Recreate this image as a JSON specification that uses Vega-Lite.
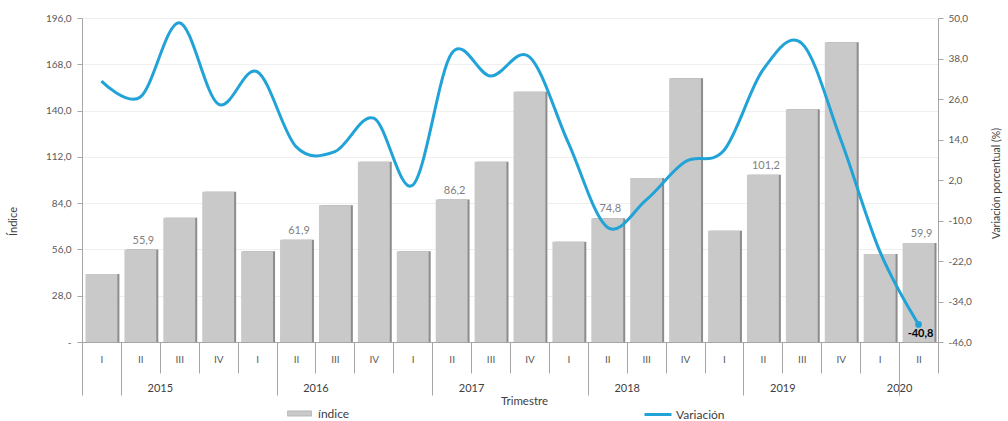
{
  "$schema": "https://vega.github.io/schema/vega-lite/v6.json",
  "width": 856,
  "height": 324,
  "autosize": {"type": "none"},
  "padding": {"left": 82, "top": 18, "right": 70, "bottom": 79},
  "background": "white",
  "config": {
    "locale": {"number": {"decimal": ",", "thousands": ".", "grouping": [3], "currency": ["", " €"], "minus": "-"}},
    "view": {"stroke": null},
    "font": "Lato",
    "axis": {
      "labelFont": "Lato",
      "labelColor": "#595959",
      "labelFontSize": 10,
      "titleFont": "Lato",
      "titleFontWeight": "normal",
      "titleColor": "#404040",
      "titleFontSize": 11,
      "domainColor": "#a6a6a6",
      "tickColor": "#a6a6a6",
      "grid": false
    },
    "legend": {"labelFont": "Lato", "labelFontSize": 12, "labelColor": "#404040", "padding": 0}
  },
  "data": {
    "values": [
      {"q": "2015-I", "anio": "2015", "trim": "I", "indice": 41.1, "var": 31.3},
      {"q": "2015-II", "anio": "2015", "trim": "II", "indice": 55.9, "var": 26.6},
      {"q": "2015-III", "anio": "2015", "trim": "III", "indice": 75.2, "var": 48.6},
      {"q": "2015-IV", "anio": "2015", "trim": "IV", "indice": 90.9, "var": 24.5},
      {"q": "2016-I", "anio": "2016", "trim": "I", "indice": 54.9, "var": 34.1},
      {"q": "2016-II", "anio": "2016", "trim": "II", "indice": 61.9, "var": 11.9},
      {"q": "2016-III", "anio": "2016", "trim": "III", "indice": 82.7, "var": 10.4},
      {"q": "2016-IV", "anio": "2016", "trim": "IV", "indice": 109.1, "var": 20.3},
      {"q": "2017-I", "anio": "2017", "trim": "I", "indice": 54.9, "var": 0.5},
      {"q": "2017-II", "anio": "2017", "trim": "II", "indice": 86.2, "var": 39.5},
      {"q": "2017-III", "anio": "2017", "trim": "III", "indice": 109.1, "var": 32.8},
      {"q": "2017-IV", "anio": "2017", "trim": "IV", "indice": 151.4, "var": 38.5},
      {"q": "2018-I", "anio": "2018", "trim": "I", "indice": 60.7, "var": 13.0},
      {"q": "2018-II", "anio": "2018", "trim": "II", "indice": 74.8, "var": -12.0},
      {"q": "2018-III", "anio": "2018", "trim": "III", "indice": 99.2, "var": -3.9},
      {"q": "2018-IV", "anio": "2018", "trim": "IV", "indice": 159.5, "var": 7.4},
      {"q": "2019-I", "anio": "2019", "trim": "I", "indice": 67.3, "var": 10.8},
      {"q": "2019-II", "anio": "2019", "trim": "II", "indice": 101.2, "var": 34.6},
      {"q": "2019-III", "anio": "2019", "trim": "III", "indice": 140.8, "var": 42.5},
      {"q": "2019-IV", "anio": "2019", "trim": "IV", "indice": 181.3, "var": 14.0},
      {"q": "2020-I", "anio": "2020", "trim": "I", "indice": 53.2, "var": -19.0},
      {"q": "2020-II", "anio": "2020", "trim": "II", "indice": 59.9, "var": -40.8}
    ]
  },
  "layer": [
    {
      "encoding": {
        "x": {
          "field": "q", "type": "nominal", "sort": null,
          "scale": {"paddingInner": 0, "paddingOuter": 0},
          "axis": {
            "orient": "bottom", "title": null, "labelAngle": 0,
            "labelExpr": "split(datum.value, '-')[1]",
            "tickBand": "extent", "tickSize": 31, "labelPadding": -19,
            "labelFontSize": 10
          }
        },
        "y": {
          "field": "indice", "type": "quantitative",
          "scale": {"domain": [0, 196], "nice": false, "zero": true},
          "axis": {
            "orient": "left",
            "values": [0, 28, 56, 84, 112, 140, 168, 196],
            "format": ".1f",
            "labelExpr": "datum.value == 0 ? '-' : datum.label",
            "title": "Índice",
            "titleX": -64, "titleY": 203, "titleBaseline": "bottom", "titleAngle": -90,
            "tickSize": 5, "labelPadding": 6,
            "grid": true, "gridColor": "#efefef"
          }
        }
      },
      "layer": [
        {"mark": {"type": "bar", "width": {"band": 0.82}, "xOffset": 2, "color": "#8c8c8c"}},
        {
          "mark": {"type": "bar", "width": {"band": 0.82}},
          "encoding": {
            "fill": {
              "datum": "índice", "type": "nominal",
              "scale": {"range": ["#c9c9c9"]},
              "legend": {
                "orient": "none", "legendX": 205, "legendY": 383, "title": null,
                "symbolType": "M-1,-0.22H1V0.22H-1Z", "symbolSize": 576,
                "symbolStrokeColor": "#9a9a9a", "symbolStrokeWidth": 0.5,
                "labelOffset": 6
              }
            }
          }
        }
      ]
    },
    {
      "encoding": {
        "x": {
          "field": "q", "type": "nominal", "sort": null,
          "scale": {"paddingInner": 0, "paddingOuter": 0},
          "axis": {
            "orient": "bottom", "labelAngle": 0,
            "values": ["2015-II", "2016-II", "2017-II", "2018-II", "2019-II", "2020-I"],
            "labelOffset": 19.45,
            "labelExpr": "split(datum.value, '-')[0]",
            "ticks": false, "domain": false, "labelPadding": 40,
            "labelFontSize": 11, "labelColor": "#404040",
            "title": "Trimestre", "titleX": 442, "titleY": 53, "titleBaseline": "top",
            "titleFontSize": 11.5
          }
        },
        "y": {
          "field": "var", "type": "quantitative",
          "scale": {"domain": [-46, 50], "nice": false, "zero": false},
          "axis": {
            "orient": "right",
            "values": [-46, -34, -22, -10, 2, 14, 26, 38, 50],
            "format": ".1f",
            "title": "Variación porcentual (%)",
            "titleAngle": 270, "titleBaseline": "bottom", "titleX": 63, "titleY": 165,
            "titleFontSize": 10.5,
            "tickSize": 5, "labelPadding": 5
          }
        }
      },
      "layer": [
        {
          "mark": {"type": "line", "interpolate": "cardinal", "strokeWidth": 3},
          "encoding": {
            "stroke": {
              "datum": "Variación", "type": "nominal",
              "scale": {"range": ["#21a3d8"]},
              "legend": {
                "orient": "none", "legendX": 561, "legendY": 381.5, "title": null,
                "symbolType": "stroke", "symbolSize": 729, "symbolStrokeWidth": 3,
                "labelOffset": 3
              }
            }
          }
        },
        {
          "mark": {"type": "point", "filled": true, "size": 45, "color": "#21a3d8"},
          "encoding": {
            "opacity": {"condition": {"test": "datum.q == '2020-II'", "value": 1}, "value": 0}
          }
        },
        {
          "mark": {"type": "text", "dy": 10, "dx": 2, "fontWeight": "bold", "fontSize": 11, "color": "#000000"},
          "encoding": {
            "text": {"condition": {"test": "datum.q == '2020-II'", "field": "var", "type": "quantitative", "format": ".1f"}, "value": ""}
          }
        }
      ]
    },
    {
      "mark": {"type": "text", "baseline": "alphabetic", "dy": -6, "dx": 3, "fontSize": 11, "color": "#7f7f7f"},
      "encoding": {
        "x": {
          "field": "q", "type": "nominal", "sort": null,
          "scale": {"paddingInner": 0, "paddingOuter": 0},
          "axis": {
            "orient": "bottom", "title": null,
            "values": ["2015-I", "2016-I", "2017-I", "2018-I", "2019-I", "2020-I"],
            "tickBand": "extent", "tickSize": 53, "labels": false, "domain": false
          }
        },
        "y": {
          "field": "indice", "type": "quantitative",
          "scale": {"domain": [0, 196], "nice": false},
          "axis": null
        },
        "text": {"condition": {"test": "datum.trim == 'II'", "field": "indice", "type": "quantitative", "format": ".1f"}, "value": ""}
      }
    }
  ],
  "resolve": {
    "scale": {"x": "independent", "y": "independent"},
    "axis": {"x": "independent", "y": "independent"}
  }
}
